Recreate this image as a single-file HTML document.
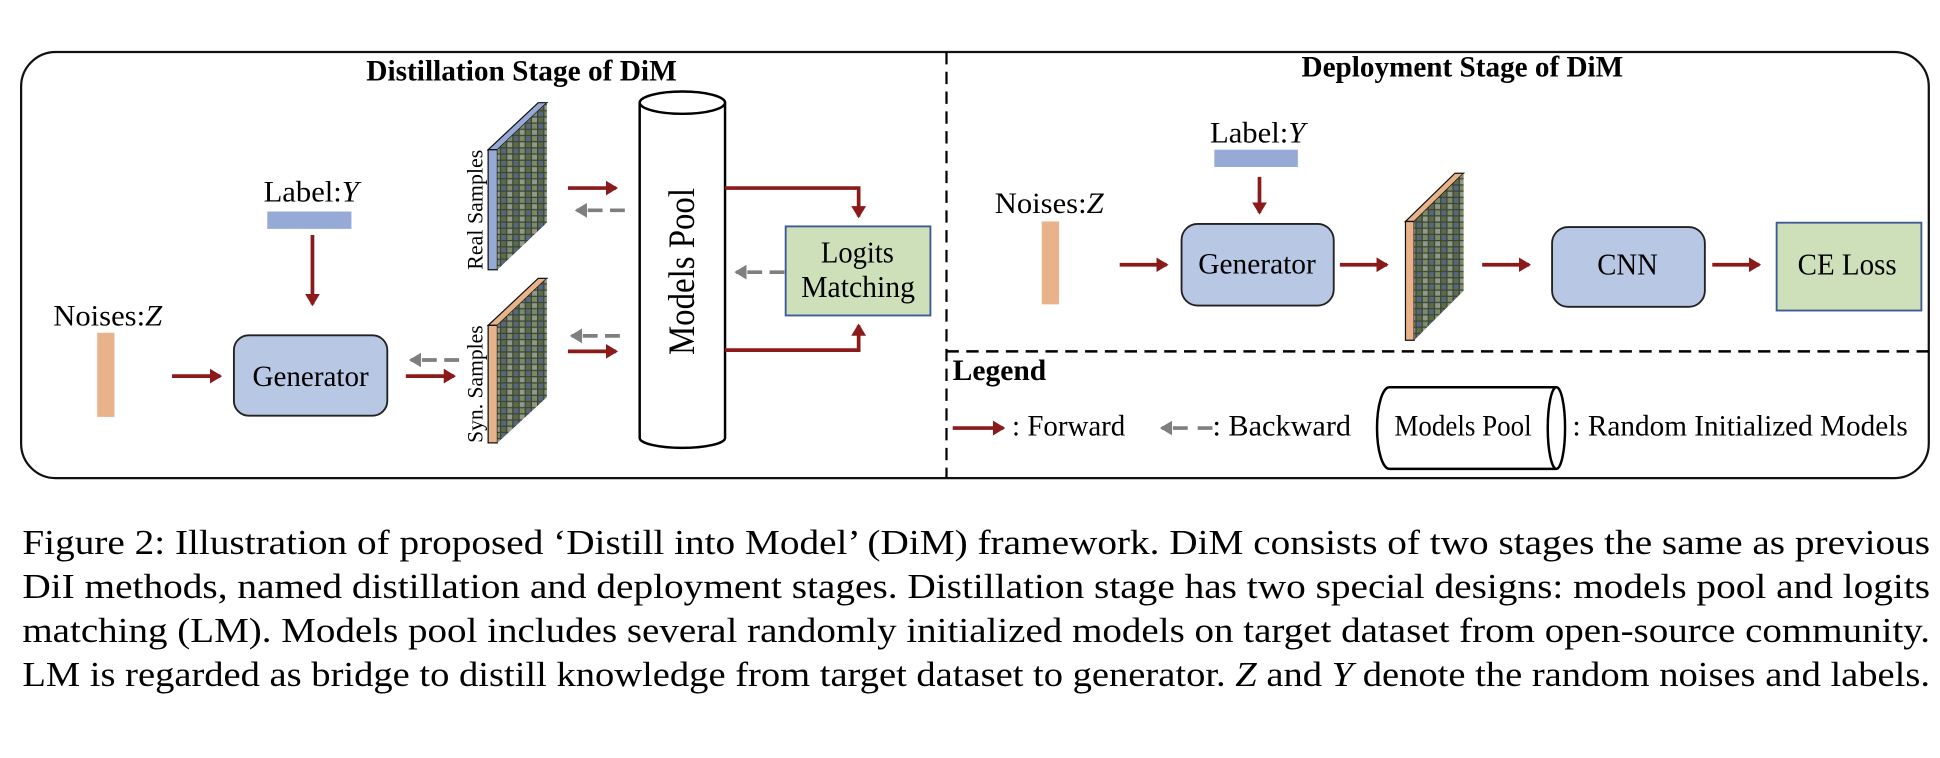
<!DOCTYPE html>
<html><head><meta charset="utf-8"><style>
html,body{margin:0;padding:0;background:#fff;width:1940px;height:758px;overflow:hidden}
svg{display:block}
text{font-family:"Liberation Serif","Times New Roman",Times,serif;fill:#000}
</style></head><body>
<svg width="1940" height="758" viewBox="0 0 1568 612.7" xmlns="http://www.w3.org/2000/svg">
<defs>
<marker id="ar" markerWidth="5" markerHeight="5" refX="2.8" refY="2.2" orient="auto" markerUnits="strokeWidth"><path d="M0,0.2 L3.3,2.2 L0,4.2 z" fill="#8b1a1a"/></marker>
<marker id="ag" markerWidth="5" markerHeight="5" refX="2.8" refY="2.2" orient="auto" markerUnits="strokeWidth"><path d="M0,0.2 L3.3,2.2 L0,4.2 z" fill="#7f7f7f"/></marker>
<pattern id="mos" width="10" height="10" patternUnits="userSpaceOnUse">
<rect width="10" height="10" fill="#3a4438"/>
<rect x="0" y="0" width="4" height="4" fill="#7d8a62"/>
<rect x="5" y="0" width="4" height="4" fill="#56687a"/>
<rect x="0" y="5" width="4" height="4" fill="#8f9a88"/>
<rect x="5" y="5" width="4" height="4" fill="#5f6b46"/>
</pattern>
</defs>
<rect x="17" y="42" width="1542" height="344.5" rx="28" fill="none" stroke="#111" stroke-width="1.8"/>
<line x1="765" y1="42" x2="765" y2="386" stroke="#000" stroke-width="1.8" stroke-dasharray="10,6"/>
<line x1="765" y1="284" x2="1559" y2="284" stroke="#000" stroke-width="2" stroke-dasharray="10,6"/>

<text x="296" y="65" font-size="24" font-weight="bold" textLength="251" lengthAdjust="spacingAndGlyphs">Distillation Stage of DiM</text>
<text x="1052" y="62" font-size="24" font-weight="bold" textLength="260" lengthAdjust="spacingAndGlyphs">Deployment Stage of DiM</text>

<!-- left -->
<text x="213" y="163" font-size="24" textLength="77" lengthAdjust="spacingAndGlyphs">Label:<tspan font-style="italic">Y</tspan></text>
<rect x="216" y="171" width="68" height="14" fill="#97a9d6"/>
<line x1="252.5" y1="190" x2="252.5" y2="246" stroke="#8b1a1a" stroke-width="3" marker-end="url(#ar)"/>
<text x="43" y="263" font-size="24" textLength="88" lengthAdjust="spacingAndGlyphs">Noises:<tspan font-style="italic">Z</tspan></text>
<rect x="78.5" y="269" width="14" height="68" fill="#e8b38a"/>
<line x1="139" y1="304" x2="178" y2="304" stroke="#8b1a1a" stroke-width="3" marker-end="url(#ar)"/>
<rect x="189" y="271" width="124" height="65" rx="12" fill="#b8c7e4" stroke="#222" stroke-width="1.5"/>
<text x="204" y="312" font-size="24" textLength="94" lengthAdjust="spacingAndGlyphs">Generator</text>
<line x1="371" y1="291" x2="332" y2="291" stroke="#7f7f7f" stroke-width="3" stroke-dasharray="12,6" marker-end="url(#ag)"/>
<line x1="328" y1="304" x2="367" y2="304" stroke="#8b1a1a" stroke-width="3" marker-end="url(#ar)"/>

<!-- real samples -->
<polygon points="394.5,121 435,83 442,83 402,121" fill="#97a9d6" stroke="#111" stroke-width="1"/>
<polygon points="394.5,121 402,121 402,218 394.5,218" fill="#97a9d6" stroke="#111" stroke-width="1"/>
<polygon points="402,121 442,83 442,180 402,218" fill="url(#mos)"/>
<text transform="translate(390,169.5) rotate(-90)" font-size="18" text-anchor="middle" textLength="97" lengthAdjust="spacingAndGlyphs">Real Samples</text>
<!-- syn samples -->
<polygon points="394.5,263 435,225 442,225 402,263" fill="#e8b38a" stroke="#111" stroke-width="1"/>
<polygon points="394.5,263 402,263 402,358 394.5,358" fill="#e8b38a" stroke="#111" stroke-width="1"/>
<polygon points="402,263 442,225 442,321 402,358" fill="url(#mos)"/>
<text transform="translate(390,310.5) rotate(-90)" font-size="18" text-anchor="middle" textLength="95" lengthAdjust="spacingAndGlyphs">Syn. Samples</text>

<line x1="459" y1="152" x2="498" y2="152" stroke="#8b1a1a" stroke-width="3" marker-end="url(#ar)"/>
<line x1="505" y1="170" x2="466" y2="170" stroke="#7f7f7f" stroke-width="3" stroke-dasharray="12,6" marker-end="url(#ag)"/>
<line x1="501" y1="271.5" x2="462" y2="271.5" stroke="#7f7f7f" stroke-width="3" stroke-dasharray="12,6" marker-end="url(#ag)"/>
<line x1="459" y1="284" x2="498" y2="284" stroke="#8b1a1a" stroke-width="3" marker-end="url(#ar)"/>

<!-- cylinder -->
<path d="M517,83 L517,354 A34.5,8 0 0 0 586,354 L586,83" fill="#fff" stroke="#000" stroke-width="2"/>
<ellipse cx="551.5" cy="83" rx="34.5" ry="9" fill="#fff" stroke="#000" stroke-width="2"/>
<text transform="translate(561,219.5) rotate(-90)" font-size="30" text-anchor="middle" textLength="135" lengthAdjust="spacingAndGlyphs">Models Pool</text>

<polyline points="586,152 694,152 694,175" fill="none" stroke="#8b1a1a" stroke-width="3" marker-end="url(#ar)"/>
<polyline points="586,283 694,283 694,263" fill="none" stroke="#8b1a1a" stroke-width="3" marker-end="url(#ar)"/>
<rect x="635" y="183" width="117" height="72" fill="#cde0b9" stroke="#3c5a96" stroke-width="1.5"/>
<text x="663.5" y="212" font-size="25" textLength="59" lengthAdjust="spacingAndGlyphs">Logits</text>
<text x="647.5" y="240" font-size="25" textLength="92" lengthAdjust="spacingAndGlyphs">Matching</text>
<line x1="634" y1="220" x2="595" y2="220" stroke="#7f7f7f" stroke-width="3" stroke-dasharray="12,6" marker-end="url(#ag)"/>

<!-- right -->
<text x="978" y="115" font-size="24" textLength="77" lengthAdjust="spacingAndGlyphs">Label:<tspan font-style="italic">Y</tspan></text>
<rect x="981.5" y="121" width="67.5" height="14" fill="#97a9d6"/>
<line x1="1018" y1="143" x2="1018" y2="172" stroke="#8b1a1a" stroke-width="3" marker-end="url(#ar)"/>
<text x="804" y="172" font-size="24" textLength="88" lengthAdjust="spacingAndGlyphs">Noises:<tspan font-style="italic">Z</tspan></text>
<rect x="842" y="179" width="14" height="67" fill="#e8b38a"/>
<line x1="905" y1="214" x2="943" y2="214" stroke="#8b1a1a" stroke-width="3" marker-end="url(#ar)"/>
<rect x="955" y="181" width="123" height="66" rx="13" fill="#b8c7e4" stroke="#222" stroke-width="1.5"/>
<text x="968.5" y="221" font-size="24" textLength="95" lengthAdjust="spacingAndGlyphs">Generator</text>
<line x1="1083" y1="214" x2="1121" y2="214" stroke="#8b1a1a" stroke-width="3" marker-end="url(#ar)"/>
<polygon points="1136,179 1176,140 1183,140 1143,179" fill="#e8b38a" stroke="#111" stroke-width="1"/>
<polygon points="1136,179 1143,179 1143,275 1136,275" fill="#e8b38a" stroke="#111" stroke-width="1"/>
<polygon points="1143,179 1183,140 1183,235 1143,275" fill="url(#mos)"/>
<line x1="1198" y1="214" x2="1236" y2="214" stroke="#8b1a1a" stroke-width="3" marker-end="url(#ar)"/>
<rect x="1254.5" y="183.5" width="123.5" height="64.5" rx="13" fill="#b8c7e4" stroke="#222" stroke-width="1.5"/>
<text x="1291" y="222" font-size="25" textLength="49" lengthAdjust="spacingAndGlyphs">CNN</text>
<line x1="1384" y1="214" x2="1422" y2="214" stroke="#8b1a1a" stroke-width="3" marker-end="url(#ar)"/>
<rect x="1436" y="180" width="117" height="71" fill="#cde0b9" stroke="#3c5a96" stroke-width="1.5"/>
<text x="1453" y="222" font-size="25" textLength="80" lengthAdjust="spacingAndGlyphs">CE Loss</text>

<!-- legend -->
<text x="770" y="307" font-size="24" font-weight="bold" textLength="75.6" lengthAdjust="spacingAndGlyphs">Legend</text>
<line x1="770" y1="346" x2="811" y2="346" stroke="#8b1a1a" stroke-width="3" marker-end="url(#ar)"/>
<text x="818" y="352" font-size="24" textLength="91.5" lengthAdjust="spacingAndGlyphs">: Forward</text>
<line x1="980" y1="346" x2="939" y2="346" stroke="#7f7f7f" stroke-width="3" stroke-dasharray="12,8" marker-end="url(#ag)"/>
<text x="980" y="352" font-size="24" textLength="112" lengthAdjust="spacingAndGlyphs">: Backward</text>
<path d="M1258,313 L1123,313 A10,33 0 0 0 1123,379 L1258,379" fill="#fff" stroke="#000" stroke-width="2"/>
<ellipse cx="1258" cy="346" rx="7" ry="33" fill="#fff" stroke="#000" stroke-width="2"/>
<text x="1127" y="352" font-size="24" textLength="111" lengthAdjust="spacingAndGlyphs">Models Pool</text>
<text x="1271" y="352" font-size="24" textLength="271" lengthAdjust="spacingAndGlyphs">:  Random Initialized Models</text>

<!-- caption -->
<text x="18" y="448" font-size="28" textLength="1542" lengthAdjust="spacingAndGlyphs">Figure 2: Illustration of proposed ‘Distill into Model’ (DiM) framework. DiM consists of two stages the same as previous</text>
<text x="18" y="483.5" font-size="28" textLength="1542" lengthAdjust="spacingAndGlyphs">DiI methods, named distillation and deployment stages. Distillation stage has two special designs: models pool and logits</text>
<text x="18" y="519" font-size="28" textLength="1542" lengthAdjust="spacingAndGlyphs">matching (LM). Models pool includes several randomly initialized models on target dataset from open-source community.</text>
<text x="18" y="554.5" font-size="28" textLength="1542" lengthAdjust="spacingAndGlyphs">LM is regarded as bridge to distill knowledge from target dataset to generator. <tspan font-style="italic">Z</tspan> and <tspan font-style="italic">Y</tspan> denote the random noises and labels.</text>
</svg>
</body></html>
